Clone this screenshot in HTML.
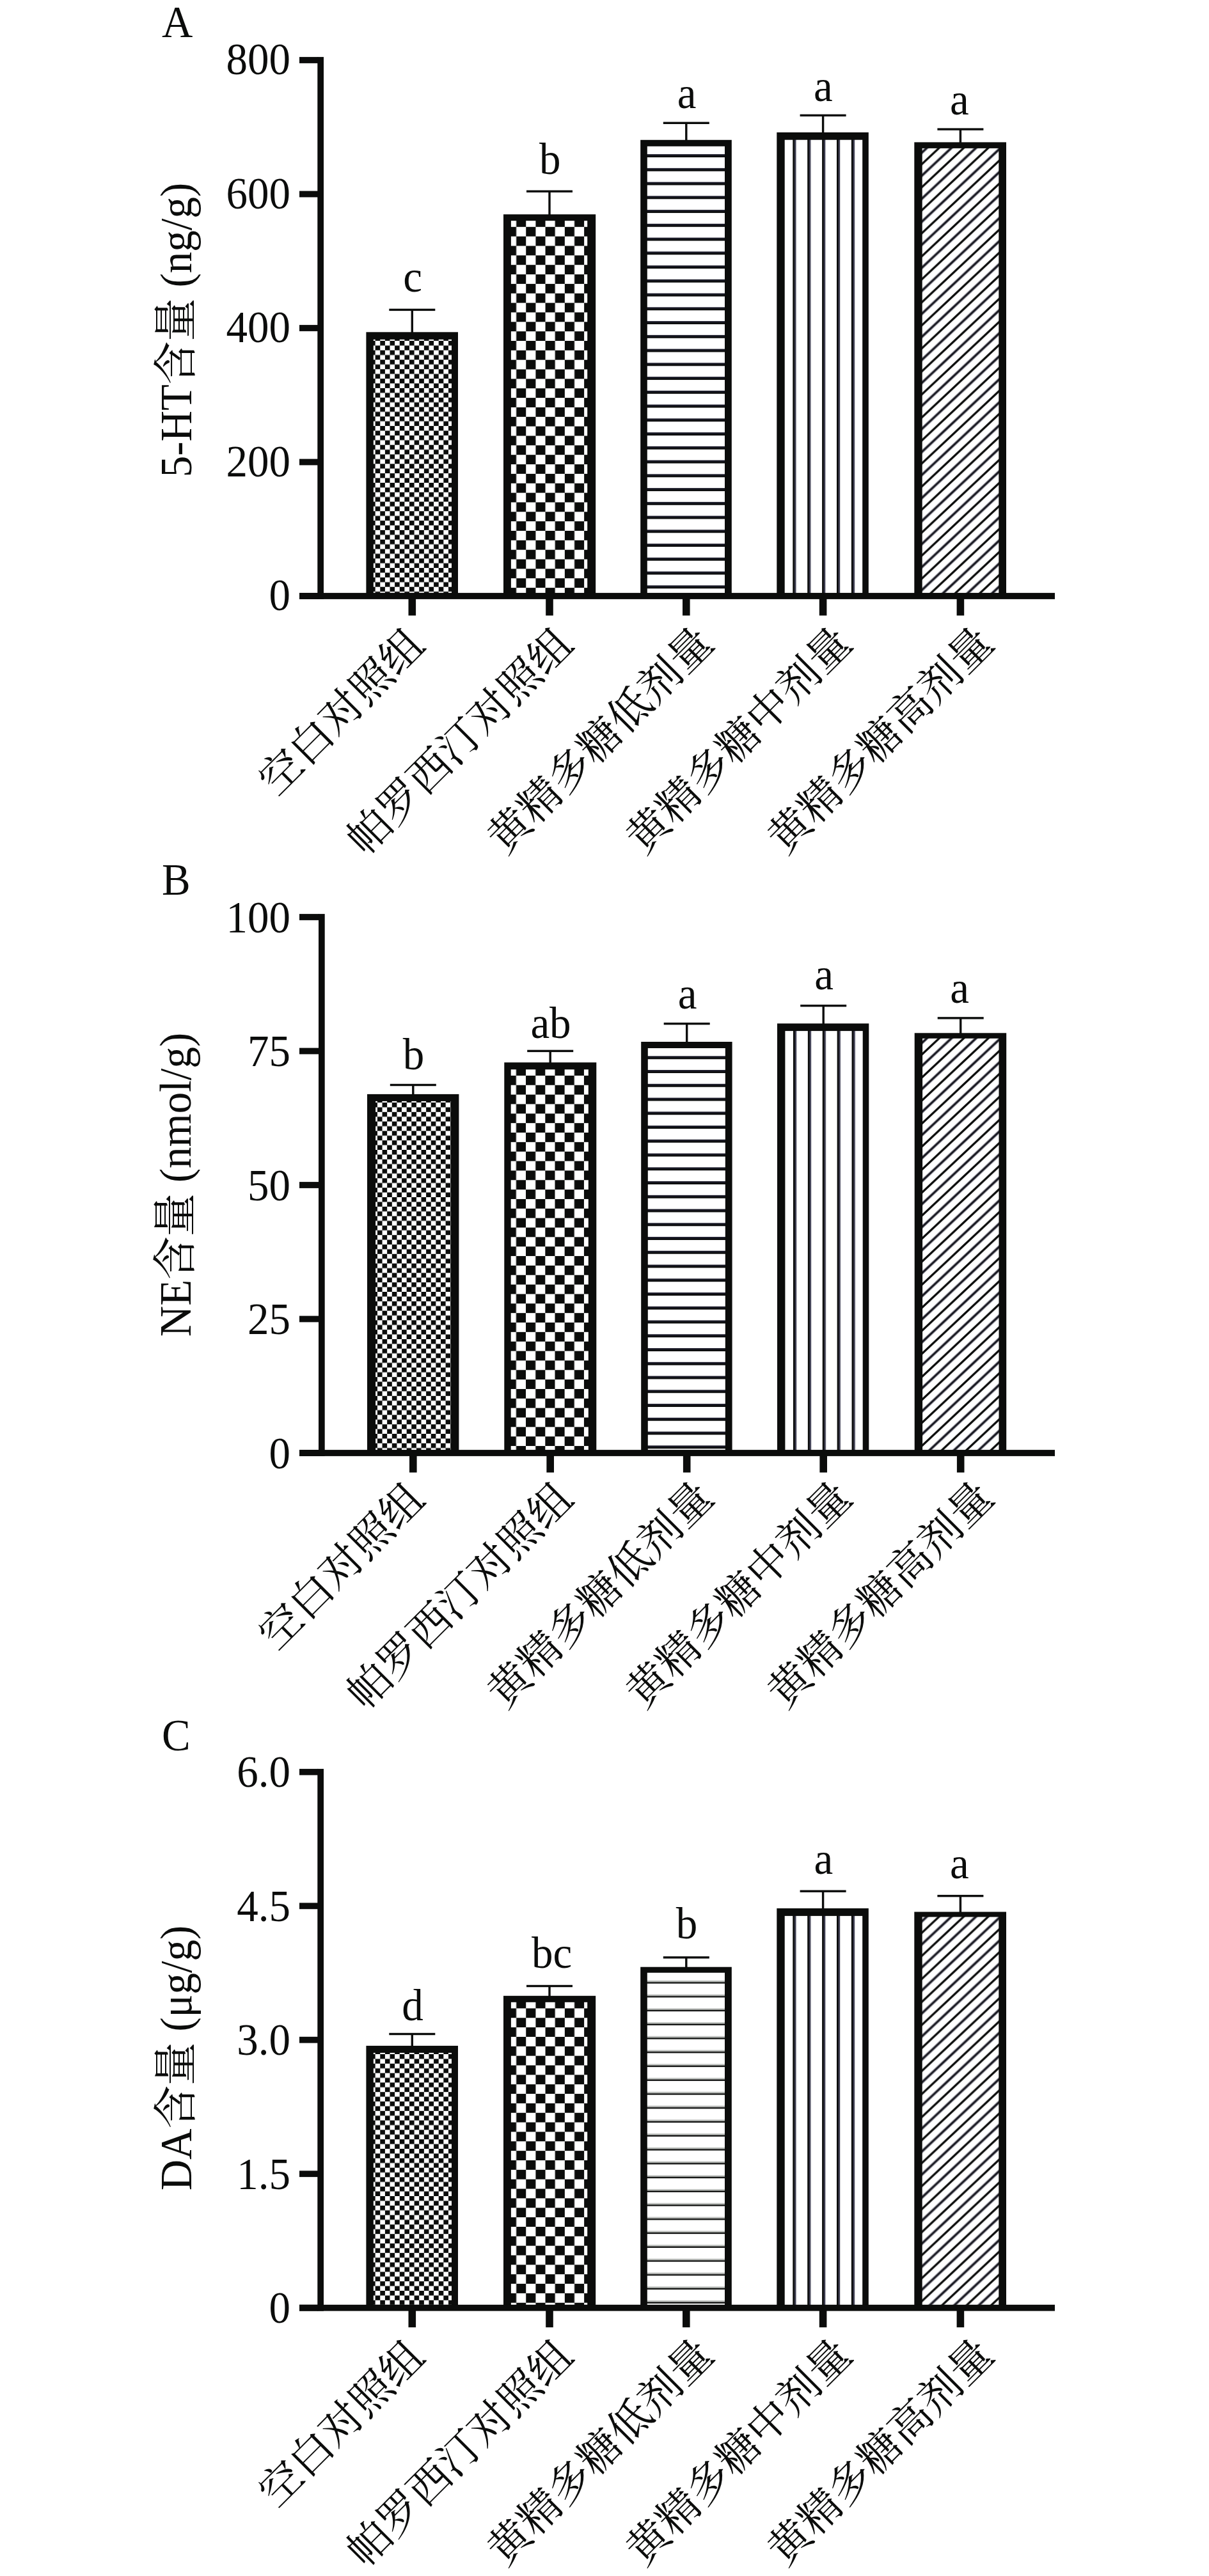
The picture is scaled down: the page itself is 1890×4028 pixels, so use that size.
<!DOCTYPE html>
<html lang="zh"><head><meta charset="utf-8"><title>Figure</title>
<style>
html,body{margin:0;padding:0;background:#fff;}
body{width:1890px;height:4028px;overflow:hidden;}
svg{display:block;}
text{font-family:"Liberation Serif","Noto Serif CJK SC",serif;fill:#0b0c0b;}
.lat{font-size:67px;}
.cjk{font-family:"Noto Serif CJK SC","Liberation Serif",serif;font-size:66.4px;}
</style></head><body>
<svg width="1890" height="4028" viewBox="0 0 1890 4028">
<rect width="1890" height="4028" fill="#fff"/>

<defs>
</defs>
<g id="chartA">
<text class="lat" transform="translate(253.0,57.6) scale(1,1.034)">A</text>
<text class="lat" text-anchor="middle" transform="translate(299.0,516.0) rotate(-90) scale(1,1.034)" xml:space="preserve"><tspan class="lat">5-HT</tspan><tspan class="cjk" style="font-size:67.5px">含量</tspan><tspan class="lat"> (ng/g)</tspan></text>
<pattern id="p1" patternUnits="userSpaceOnUse" x="586.65" y="532.90" width="15.24" height="14.8"><rect width="15.24" height="14.8" fill="#fff"/><rect x="7.62" y="0" width="7.62" height="7.4" fill="#0b0c0b"/><rect x="0" y="7.4" width="7.62" height="7.4" fill="#0b0c0b"/></pattern>
<rect x="572.4" y="519.3" width="143.6" height="412.7" fill="#0b0c0b"/>
<rect x="583.8" y="530.8" width="122.2" height="396.7" fill="url(#p1)"/>
<rect x="608.3" y="482.7" width="72" height="3.4" fill="#0b0c0b"/>
<rect x="642.6" y="484.4" width="3.4" height="35.9" fill="#0b0c0b"/>
<text class="lat" text-anchor="middle" transform="translate(645.1,456.0) scale(1,1.034)">c</text>
<rect x="638.5" y="932.0" width="11.6" height="30.5" fill="#0b0c0b"/>
<text class="cjk" text-anchor="end" transform="translate(667.3,1011.9) rotate(-45)">空白对照组</text>
<pattern id="p2" patternUnits="userSpaceOnUse" x="791.95" y="339.95" width="30.3" height="29.7"><rect width="30.3" height="29.7" fill="#fff"/><rect x="15.15" y="0" width="15.15" height="14.85" fill="#0b0c0b"/><rect x="0" y="14.85" width="15.15" height="14.85" fill="#0b0c0b"/></pattern>
<rect x="787.0" y="335.2" width="144.2" height="596.8" fill="#0b0c0b"/>
<rect x="798.9" y="345.2" width="119.3" height="582.3" fill="url(#p2)"/>
<rect x="823.0" y="297.5" width="72" height="3.4" fill="#0b0c0b"/>
<rect x="857.3" y="299.2" width="3.4" height="37.0" fill="#0b0c0b"/>
<text class="lat" text-anchor="middle" transform="translate(859.8,272.3) scale(1,1.034)">b</text>
<rect x="853.2" y="932.0" width="11.6" height="30.5" fill="#0b0c0b"/>
<text class="cjk" text-anchor="end" transform="translate(899.5,1011.1) rotate(-45)">帕罗西汀对照组</text>
<pattern id="p3" patternUnits="userSpaceOnUse" x="0" y="241.10" width="40" height="21.75"><rect width="40" height="21.75" fill="#fff"/><rect x="0" y="0" width="40" height="4.8" fill="#1b1b29"/><rect x="0" y="2.4" width="40" height="2.4" fill="#0b0c0b"/></pattern>
<rect x="1001.2" y="218.8" width="142.6" height="713.2" fill="#0b0c0b"/>
<rect x="1011.8" y="228.8" width="121.2" height="698.7" fill="url(#p3)"/>
<rect x="1036.8" y="190.6" width="72" height="3.4" fill="#0b0c0b"/>
<rect x="1071.1" y="192.3" width="3.4" height="27.5" fill="#0b0c0b"/>
<text class="lat" text-anchor="middle" transform="translate(1073.6,169.0) scale(1,1.034)">a</text>
<rect x="1067.0" y="932.0" width="11.6" height="30.5" fill="#0b0c0b"/>
<text class="cjk" text-anchor="end" transform="translate(1118.6,1009.1) rotate(-45)">黄精多糖低剂量</text>
<pattern id="p4" patternUnits="userSpaceOnUse" x="1239.30" y="0" width="22.9" height="40"><rect width="22.9" height="40" fill="#fff"/><rect x="0" y="0" width="5.2" height="40" fill="#3b3b4f"/><rect x="0" y="0" width="2.6" height="40" fill="#0b0c0b"/></pattern>
<rect x="1214.3" y="207.0" width="143.5" height="725.0" fill="#0b0c0b"/>
<rect x="1226.7" y="218.7" width="121.5" height="708.8" fill="url(#p4)"/>
<rect x="1250.6" y="178.7" width="72" height="3.4" fill="#0b0c0b"/>
<rect x="1284.9" y="180.4" width="3.4" height="27.6" fill="#0b0c0b"/>
<text class="lat" text-anchor="middle" transform="translate(1286.8,158.2) scale(1,1.034)">a</text>
<rect x="1280.8" y="932.0" width="11.6" height="30.5" fill="#0b0c0b"/>
<text class="cjk" text-anchor="end" transform="translate(1335.3,1009.1) rotate(-45)">黄精多糖中剂量</text>
<pattern id="p5" patternUnits="userSpaceOnUse" x="1441.70" y="220.10" width="38.4" height="36.0"><rect width="38.4" height="36.0" fill="#fff"/><path d="M76.80,-108.00 L-115.20,72.00 M115.20,-108.00 L-115.20,108.00 M153.60,-108.00 L-115.20,144.00 M192.00,-108.00 L-115.20,180.00 M230.40,-108.00 L-115.20,216.00 " stroke="#0b0c0b" stroke-width="3.3" fill="none"/><path d="M96.00,-108.00 L-115.20,90.00 M134.40,-108.00 L-115.20,126.00 M172.80,-108.00 L-115.20,162.00 M211.20,-108.00 L-115.20,198.00 M249.60,-108.00 L-115.20,234.00 " stroke="#85858f" stroke-width="4.6" fill="none"/><path d="M96.00,-108.00 L-115.20,90.00 M134.40,-108.00 L-115.20,126.00 M172.80,-108.00 L-115.20,162.00 M211.20,-108.00 L-115.20,198.00 M249.60,-108.00 L-115.20,234.00 " stroke="#14141c" stroke-width="2.4" fill="none"/></pattern>
<rect x="1429.3" y="222.4" width="143.7" height="709.6" fill="#0b0c0b"/>
<rect x="1441.7" y="231.9" width="119.6" height="695.6" fill="url(#p5)"/>
<rect x="1465.4" y="200.4" width="72" height="3.4" fill="#0b0c0b"/>
<rect x="1499.7" y="202.1" width="3.4" height="21.3" fill="#0b0c0b"/>
<text class="lat" text-anchor="middle" transform="translate(1499.9,179.0) scale(1,1.034)">a</text>
<rect x="1495.6" y="932.0" width="11.6" height="30.5" fill="#0b0c0b"/>
<text class="cjk" text-anchor="end" transform="translate(1556.6,1009.1) rotate(-45)">黄精多糖高剂量</text>
<rect x="496.3" y="89.1" width="9.7" height="847.8" fill="#0b0c0b"/>
<rect x="468.0" y="927.1" width="1181.0" height="9.8" fill="#0b0c0b"/>
<rect x="468" y="927.1" width="29.3" height="9.8" fill="#0b0c0b"/>
<text class="lat" text-anchor="end" transform="translate(454.0,954.4) scale(1,1.034)">0</text>
<rect x="468" y="717.6" width="29.3" height="9.8" fill="#0b0c0b"/>
<text class="lat" text-anchor="end" transform="translate(454.0,744.9) scale(1,1.034)">200</text>
<rect x="468" y="508.1" width="29.3" height="9.8" fill="#0b0c0b"/>
<text class="lat" text-anchor="end" transform="translate(454.0,535.4) scale(1,1.034)">400</text>
<rect x="468" y="298.6" width="29.3" height="9.8" fill="#0b0c0b"/>
<text class="lat" text-anchor="end" transform="translate(454.0,325.9) scale(1,1.034)">600</text>
<rect x="468" y="89.1" width="29.3" height="9.8" fill="#0b0c0b"/>
<text class="lat" text-anchor="end" transform="translate(454.0,116.4) scale(1,1.034)">800</text>
</g>
<g id="chartB">
<text class="lat" transform="translate(253.0,1399.0) scale(1,1.034)">B</text>
<text class="lat" text-anchor="middle" transform="translate(298.0,1852.5) rotate(-90) scale(1,1.034)" xml:space="preserve"><tspan class="lat">NE</tspan><tspan class="cjk" style="font-size:67.5px">含量</tspan><tspan class="lat"> (nmol/g)</tspan></text>
<pattern id="p6" patternUnits="userSpaceOnUse" x="589.93" y="1724.00" width="15.24" height="14.8"><rect width="15.24" height="14.8" fill="#fff"/><rect x="7.62" y="0" width="7.62" height="7.4" fill="#0b0c0b"/><rect x="0" y="7.4" width="7.62" height="7.4" fill="#0b0c0b"/></pattern>
<rect x="574.0" y="1710.9" width="143.4" height="561.1" fill="#0b0c0b"/>
<rect x="587.1" y="1721.9" width="117.5" height="545.6" fill="url(#p6)"/>
<rect x="609.8" y="1694.8" width="72" height="3.4" fill="#0b0c0b"/>
<rect x="644.1" y="1696.5" width="3.4" height="15.4" fill="#0b0c0b"/>
<text class="lat" text-anchor="middle" transform="translate(646.6,1671.5) scale(1,1.034)">b</text>
<rect x="640.0" y="2272.0" width="11.6" height="30.5" fill="#0b0c0b"/>
<text class="cjk" text-anchor="end" transform="translate(667.3,2347.9) rotate(-45)">空白对照组</text>
<pattern id="p7" patternUnits="userSpaceOnUse" x="791.73" y="1667.05" width="30.3" height="29.7"><rect width="30.3" height="29.7" fill="#fff"/><rect x="15.15" y="0" width="15.15" height="14.85" fill="#0b0c0b"/><rect x="0" y="14.85" width="15.15" height="14.85" fill="#0b0c0b"/></pattern>
<rect x="788.3" y="1661.3" width="144.0" height="610.7" fill="#0b0c0b"/>
<rect x="798.7" y="1672.3" width="121.1" height="595.2" fill="url(#p7)"/>
<rect x="824.2" y="1641.7" width="72" height="3.4" fill="#0b0c0b"/>
<rect x="858.5" y="1643.4" width="3.4" height="18.9" fill="#0b0c0b"/>
<text class="lat" text-anchor="middle" transform="translate(861.0,1623.0) scale(1,1.034)">ab</text>
<rect x="854.4" y="2272.0" width="11.6" height="30.5" fill="#0b0c0b"/>
<text class="cjk" text-anchor="end" transform="translate(899.5,2347.1) rotate(-45)">帕罗西汀对照组</text>
<pattern id="p8" patternUnits="userSpaceOnUse" x="0" y="1651.30" width="40" height="21.75"><rect width="40" height="21.75" fill="#fff"/><rect x="0" y="0" width="40" height="4.8" fill="#1b1b29"/><rect x="0" y="2.4" width="40" height="2.4" fill="#0b0c0b"/></pattern>
<rect x="1002.2" y="1629.0" width="142.4" height="643.0" fill="#0b0c0b"/>
<rect x="1012.8" y="1639.0" width="121.0" height="628.5" fill="url(#p8)"/>
<rect x="1037.7" y="1599.0" width="72" height="3.4" fill="#0b0c0b"/>
<rect x="1072.0" y="1600.7" width="3.4" height="29.3" fill="#0b0c0b"/>
<text class="lat" text-anchor="middle" transform="translate(1074.5,1576.5) scale(1,1.034)">a</text>
<rect x="1067.9" y="2272.0" width="11.6" height="30.5" fill="#0b0c0b"/>
<text class="cjk" text-anchor="end" transform="translate(1118.6,2345.1) rotate(-45)">黄精多糖低剂量</text>
<pattern id="p9" patternUnits="userSpaceOnUse" x="1239.96" y="0" width="22.9" height="40"><rect width="22.9" height="40" fill="#fff"/><rect x="0" y="0" width="5.2" height="40" fill="#3b3b4f"/><rect x="0" y="0" width="2.6" height="40" fill="#0b0c0b"/></pattern>
<rect x="1215.0" y="1600.4" width="143.3" height="671.6" fill="#0b0c0b"/>
<rect x="1227.4" y="1612.1" width="121.3" height="655.4" fill="url(#p9)"/>
<rect x="1251.2" y="1570.9" width="72" height="3.4" fill="#0b0c0b"/>
<rect x="1285.5" y="1572.6" width="3.4" height="28.8" fill="#0b0c0b"/>
<text class="lat" text-anchor="middle" transform="translate(1288.0,1547.2) scale(1,1.034)">a</text>
<rect x="1281.4" y="2272.0" width="11.6" height="30.5" fill="#0b0c0b"/>
<text class="cjk" text-anchor="end" transform="translate(1335.3,2345.1) rotate(-45)">黄精多糖中剂量</text>
<pattern id="p10" patternUnits="userSpaceOnUse" x="1442.08" y="1612.00" width="38.4" height="36.0"><rect width="38.4" height="36.0" fill="#fff"/><path d="M76.80,-108.00 L-115.20,72.00 M115.20,-108.00 L-115.20,108.00 M153.60,-108.00 L-115.20,144.00 M192.00,-108.00 L-115.20,180.00 M230.40,-108.00 L-115.20,216.00 " stroke="#0b0c0b" stroke-width="3.3" fill="none"/><path d="M96.00,-108.00 L-115.20,90.00 M134.40,-108.00 L-115.20,126.00 M172.80,-108.00 L-115.20,162.00 M211.20,-108.00 L-115.20,198.00 M249.60,-108.00 L-115.20,234.00 " stroke="#85858f" stroke-width="4.6" fill="none"/><path d="M96.00,-108.00 L-115.20,90.00 M134.40,-108.00 L-115.20,126.00 M172.80,-108.00 L-115.20,162.00 M211.20,-108.00 L-115.20,198.00 M249.60,-108.00 L-115.20,234.00 " stroke="#14141c" stroke-width="2.4" fill="none"/></pattern>
<rect x="1429.7" y="1615.3" width="143.5" height="656.7" fill="#0b0c0b"/>
<rect x="1442.1" y="1623.8" width="119.4" height="643.7" fill="url(#p10)"/>
<rect x="1465.7" y="1590.2" width="72" height="3.4" fill="#0b0c0b"/>
<rect x="1500.0" y="1591.9" width="3.4" height="24.4" fill="#0b0c0b"/>
<text class="lat" text-anchor="middle" transform="translate(1500.2,1568.0) scale(1,1.034)">a</text>
<rect x="1495.9" y="2272.0" width="11.6" height="30.5" fill="#0b0c0b"/>
<text class="cjk" text-anchor="end" transform="translate(1556.6,2345.1) rotate(-45)">黄精多糖高剂量</text>
<rect x="498.0" y="1429.1" width="9.7" height="847.8" fill="#0b0c0b"/>
<rect x="468.0" y="2267.1" width="1181.0" height="9.8" fill="#0b0c0b"/>
<rect x="468" y="2267.1" width="31.0" height="9.8" fill="#0b0c0b"/>
<text class="lat" text-anchor="end" transform="translate(454.0,2295.9) scale(1,1.034)">0</text>
<rect x="468" y="2057.6" width="31.0" height="9.8" fill="#0b0c0b"/>
<text class="lat" text-anchor="end" transform="translate(454.0,2086.4) scale(1,1.034)">25</text>
<rect x="468" y="1848.1" width="31.0" height="9.8" fill="#0b0c0b"/>
<text class="lat" text-anchor="end" transform="translate(454.0,1876.9) scale(1,1.034)">50</text>
<rect x="468" y="1638.6" width="31.0" height="9.8" fill="#0b0c0b"/>
<text class="lat" text-anchor="end" transform="translate(454.0,1667.4) scale(1,1.034)">75</text>
<rect x="468" y="1429.1" width="31.0" height="9.8" fill="#0b0c0b"/>
<text class="lat" text-anchor="end" transform="translate(454.0,1457.9) scale(1,1.034)">100</text>
</g>
<g id="chartC">
<text class="lat" transform="translate(253.0,2736.6) scale(1,1.034)">C</text>
<text class="lat" text-anchor="middle" transform="translate(298.7,3218.0) rotate(-90) scale(1,1.034)" xml:space="preserve"><tspan class="lat">DA</tspan><tspan class="cjk" style="font-size:67.5px">含量</tspan><tspan class="lat"> (μg/g)</tspan></text>
<pattern id="p11" patternUnits="userSpaceOnUse" x="586.65" y="3212.00" width="15.24" height="14.8"><rect width="15.24" height="14.8" fill="#fff"/><rect x="7.62" y="0" width="7.62" height="7.4" fill="#0b0c0b"/><rect x="0" y="7.4" width="7.62" height="7.4" fill="#0b0c0b"/></pattern>
<rect x="572.4" y="3198.9" width="143.6" height="409.8" fill="#0b0c0b"/>
<rect x="583.8" y="3209.9" width="122.2" height="394.3" fill="url(#p11)"/>
<rect x="608.3" y="3178.8" width="72" height="3.4" fill="#0b0c0b"/>
<rect x="642.6" y="3180.5" width="3.4" height="19.4" fill="#0b0c0b"/>
<text class="lat" text-anchor="middle" transform="translate(645.1,3158.5) scale(1,1.034)">d</text>
<rect x="638.5" y="3608.7" width="11.6" height="30.5" fill="#0b0c0b"/>
<text class="cjk" text-anchor="end" transform="translate(667.3,3688.6) rotate(-45)">空白对照组</text>
<pattern id="p12" patternUnits="userSpaceOnUse" x="791.95" y="3125.55" width="30.3" height="29.7"><rect width="30.3" height="29.7" fill="#fff"/><rect x="15.15" y="0" width="15.15" height="14.85" fill="#0b0c0b"/><rect x="0" y="14.85" width="15.15" height="14.85" fill="#0b0c0b"/></pattern>
<rect x="787.0" y="3120.8" width="144.2" height="487.9" fill="#0b0c0b"/>
<rect x="798.9" y="3130.8" width="119.3" height="473.4" fill="url(#p12)"/>
<rect x="823.0" y="3103.8" width="72" height="3.4" fill="#0b0c0b"/>
<rect x="857.3" y="3105.5" width="3.4" height="16.3" fill="#0b0c0b"/>
<text class="lat" text-anchor="middle" transform="translate(862.6,3076.5) scale(1,1.034)">bc</text>
<rect x="853.2" y="3608.7" width="11.6" height="30.5" fill="#0b0c0b"/>
<text class="cjk" text-anchor="end" transform="translate(899.5,3687.8) rotate(-45)">帕罗西汀对照组</text>
<pattern id="p13" patternUnits="userSpaceOnUse" x="0" y="3096.70" width="40" height="21.75"><rect width="40" height="21.75" fill="#fff"/><rect x="0" y="0" width="40" height="2.6" fill="#c4c7c4"/><rect x="0" y="2.5" width="40" height="2.4" fill="#0b0c0b"/></pattern>
<rect x="1001.2" y="3075.7" width="142.6" height="533.0" fill="#0b0c0b"/>
<rect x="1011.8" y="3084.7" width="121.2" height="519.5" fill="url(#p13)"/>
<rect x="1036.8" y="3059.1" width="72" height="3.4" fill="#0b0c0b"/>
<rect x="1071.1" y="3060.8" width="3.4" height="15.9" fill="#0b0c0b"/>
<text class="lat" text-anchor="middle" transform="translate(1073.6,3030.5) scale(1,1.034)">b</text>
<rect x="1067.0" y="3608.7" width="11.6" height="30.5" fill="#0b0c0b"/>
<text class="cjk" text-anchor="end" transform="translate(1118.6,3685.8) rotate(-45)">黄精多糖低剂量</text>
<pattern id="p14" patternUnits="userSpaceOnUse" x="1239.30" y="0" width="22.9" height="40"><rect width="22.9" height="40" fill="#fff"/><rect x="0" y="0" width="5.2" height="40" fill="#3b3b4f"/><rect x="0" y="0" width="2.6" height="40" fill="#0b0c0b"/></pattern>
<rect x="1214.3" y="2984.0" width="143.5" height="624.7" fill="#0b0c0b"/>
<rect x="1226.7" y="2995.9" width="121.5" height="608.3" fill="url(#p14)"/>
<rect x="1250.6" y="2955.5" width="72" height="3.4" fill="#0b0c0b"/>
<rect x="1284.9" y="2957.2" width="3.4" height="27.8" fill="#0b0c0b"/>
<text class="lat" text-anchor="middle" transform="translate(1287.4,2929.8) scale(1,1.034)">a</text>
<rect x="1280.8" y="3608.7" width="11.6" height="30.5" fill="#0b0c0b"/>
<text class="cjk" text-anchor="end" transform="translate(1335.3,3685.8) rotate(-45)">黄精多糖中剂量</text>
<pattern id="p15" patternUnits="userSpaceOnUse" x="1441.70" y="2985.70" width="38.4" height="36.0"><rect width="38.4" height="36.0" fill="#fff"/><path d="M76.80,-108.00 L-115.20,72.00 M115.20,-108.00 L-115.20,108.00 M153.60,-108.00 L-115.20,144.00 M192.00,-108.00 L-115.20,180.00 M230.40,-108.00 L-115.20,216.00 " stroke="#0b0c0b" stroke-width="3.3" fill="none"/><path d="M96.00,-108.00 L-115.20,90.00 M134.40,-108.00 L-115.20,126.00 M172.80,-108.00 L-115.20,162.00 M211.20,-108.00 L-115.20,198.00 M249.60,-108.00 L-115.20,234.00 " stroke="#85858f" stroke-width="4.6" fill="none"/><path d="M96.00,-108.00 L-115.20,90.00 M134.40,-108.00 L-115.20,126.00 M172.80,-108.00 L-115.20,162.00 M211.20,-108.00 L-115.20,198.00 M249.60,-108.00 L-115.20,234.00 " stroke="#14141c" stroke-width="2.4" fill="none"/></pattern>
<rect x="1429.3" y="2989.5" width="143.7" height="619.2" fill="#0b0c0b"/>
<rect x="1441.7" y="2997.5" width="119.6" height="606.7" fill="url(#p15)"/>
<rect x="1465.4" y="2962.9" width="72" height="3.4" fill="#0b0c0b"/>
<rect x="1499.7" y="2964.6" width="3.4" height="25.9" fill="#0b0c0b"/>
<text class="lat" text-anchor="middle" transform="translate(1499.9,2937.2) scale(1,1.034)">a</text>
<rect x="1495.6" y="3608.7" width="11.6" height="30.5" fill="#0b0c0b"/>
<text class="cjk" text-anchor="end" transform="translate(1556.6,3685.8) rotate(-45)">黄精多糖高剂量</text>
<rect x="496.3" y="2765.9" width="9.7" height="847.7" fill="#0b0c0b"/>
<rect x="468.0" y="3603.8" width="1181.0" height="9.8" fill="#0b0c0b"/>
<rect x="468" y="3603.8" width="29.3" height="9.8" fill="#0b0c0b"/>
<text class="lat" text-anchor="end" transform="translate(454.0,3632.1) scale(1,1.034)">0</text>
<rect x="468" y="3394.3" width="29.3" height="9.8" fill="#0b0c0b"/>
<text class="lat" text-anchor="end" transform="translate(454.0,3422.6) scale(1,1.034)">1.5</text>
<rect x="468" y="3184.8" width="29.3" height="9.8" fill="#0b0c0b"/>
<text class="lat" text-anchor="end" transform="translate(454.0,3213.2) scale(1,1.034)">3.0</text>
<rect x="468" y="2975.4" width="29.3" height="9.8" fill="#0b0c0b"/>
<text class="lat" text-anchor="end" transform="translate(454.0,3003.7) scale(1,1.034)">4.5</text>
<rect x="468" y="2765.9" width="29.3" height="9.8" fill="#0b0c0b"/>
<text class="lat" text-anchor="end" transform="translate(454.0,2794.2) scale(1,1.034)">6.0</text>
</g>
</svg></body></html>
